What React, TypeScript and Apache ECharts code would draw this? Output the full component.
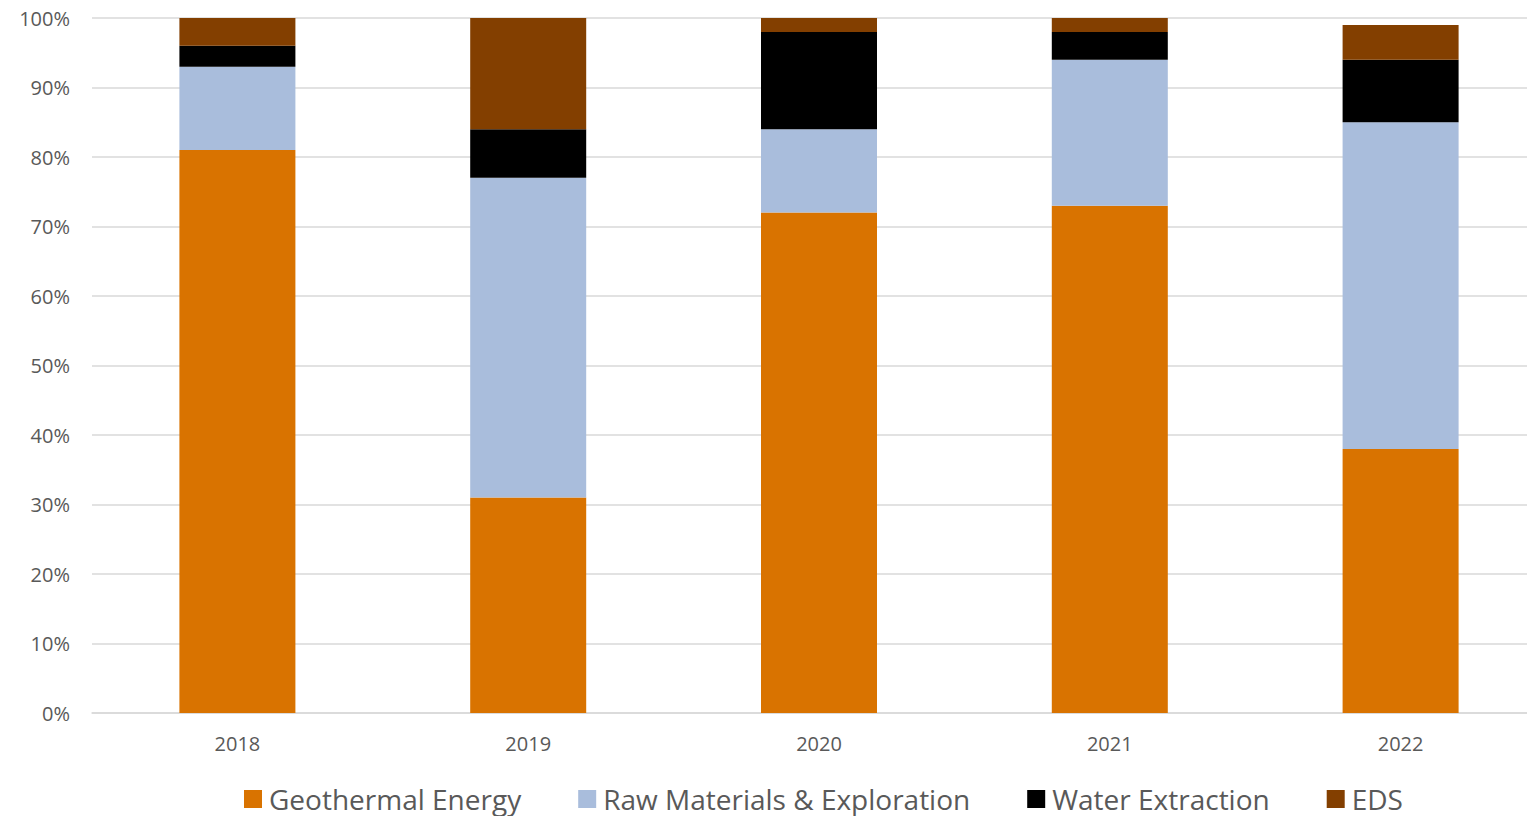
import React, { useEffect, useRef } from "react";
import * as echarts from "echarts";

const years = ["2018", "2019", "2020", "2021", "2022"];
const geothermal = [81, 31, 72, 73, 38];
const rawMaterials = [12, 46, 12, 21, 47];
const waterExtraction = [3, 7, 14, 4, 9];
const eds = [4, 16, 2, 2, 5];
const yTicks = [0, 10, 20, 30, 40, 50, 60, 70, 80, 90, 100];

export default function App() {
  const ref = useRef<HTMLDivElement>(null);
  useEffect(() => {
    const chart = echarts.init(ref.current!, undefined, { renderer: "svg" });
    const font = "'Open Sans', sans-serif";
    const mk = (name: string, data: number[], color: string) => ({
      name,
      type: "bar",
      stack: "total",
      data,
      barWidth: 116,
      itemStyle: { color },
    });
    chart.setOption({
      animation: false,
      grid: { left: 92, top: 18, bottom: 103, right: 0, containLabel: false },
      xAxis: {
        type: "category",
        data: years,
        axisLine: { show: true, lineStyle: { color: "#d9d9d9", width: 1.5 } },
        axisTick: { show: false },
        axisLabel: { color: "#595959", fontSize: 20, fontFamily: font, margin: 20 },
      },
      yAxis: {
        type: "value",
        min: 0,
        max: 100,
        interval: 10,
        axisLine: { show: false },
        axisTick: { show: false },
        splitLine: { lineStyle: { color: "#d9d9d9", width: 1.5 } },
        axisLabel: {
          color: "#595959",
          fontSize: 20,
          fontFamily: font,
          margin: 22,
          formatter: (v: number) => (yTicks.includes(v) ? v + "%" : ""),
        },
      },
      legend: {
        left: 239,
        top: 778,
        itemWidth: 18,
        itemHeight: 18,
        itemGap: 57,
        icon: "rect",
        textStyle: {
          color: "#595959",
          fontSize: 28,
          lineHeight: 32,
          fontFamily: font,
          padding: [0, 0, 0, 2],
        },
        data: ["Geothermal Energy", "Raw Materials & Exploration", "Water Extraction", "EDS"],
      },
      series: [
        mk("Geothermal Energy", geothermal, "#D97300"),
        mk("Raw Materials & Exploration", rawMaterials, "#A9BDDC"),
        mk("Water Extraction", waterExtraction, "#000000"),
        mk("EDS", eds, "#833F00"),
      ],
    });
    return () => chart.dispose();
  }, []);
  return (
    <div style={{ width: 1527, height: 816, position: "absolute", left: 0, top: 0, overflow: "hidden" }}>
      <div ref={ref} style={{ width: 1546, height: 816, position: "absolute", left: 0, top: 0 }} />
    </div>
  );
}
